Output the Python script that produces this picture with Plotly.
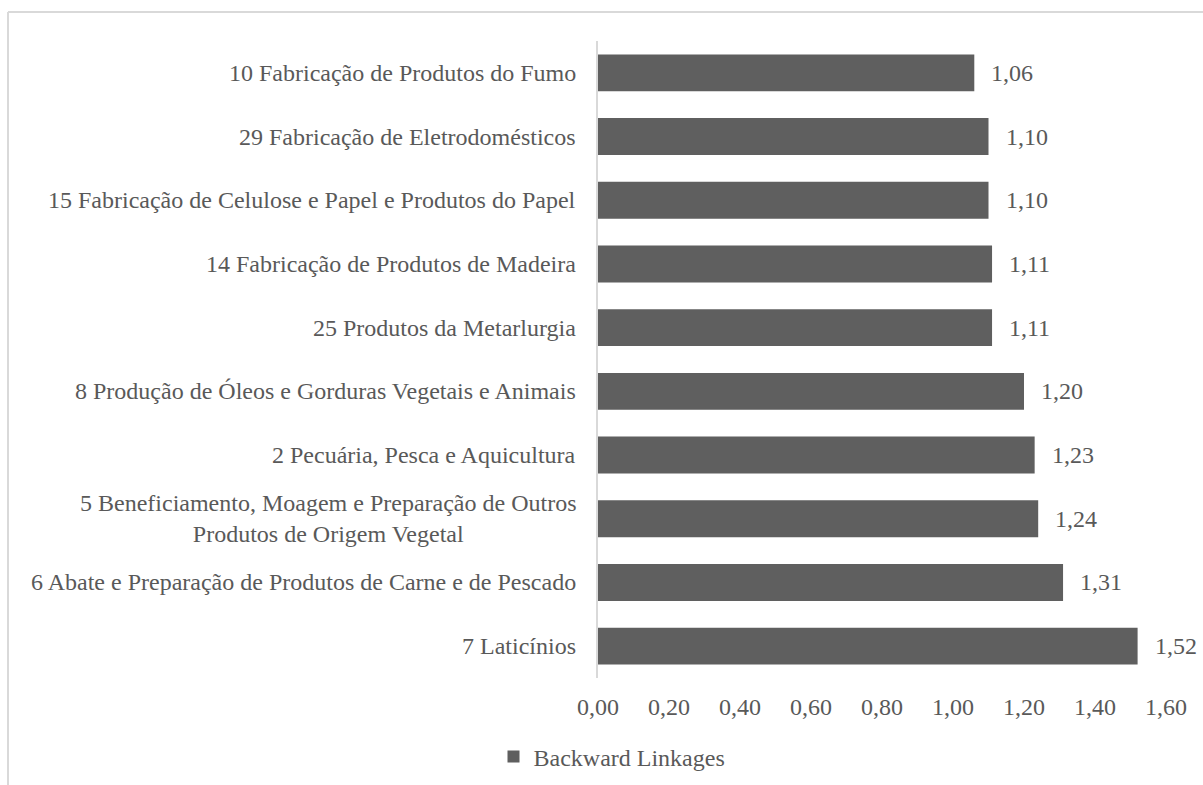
import plotly.graph_objects as go

# Sectors (bottom to top) and their backward linkage indices
sectors = [
    "7 Laticínios",
    "6 Abate e Preparação de Produtos de Carne e de Pescado",
    "5 Beneficiamento, Moagem e Preparação de Outros<br>Produtos de Origem Vegetal",
    "2 Pecuária, Pesca e Aquicultura",
    "8 Produção de Óleos e Gorduras Vegetais e Animais",
    "25 Produtos da Metarlurgia",
    "14 Fabricação de Produtos de Madeira",
    "15 Fabricação de Celulose e Papel e Produtos do Papel",
    "29 Fabricação de Eletrodomésticos",
    "10 Fabricação de Produtos do Fumo",
]
backward = [1.52, 1.31, 1.24, 1.23, 1.20, 1.11, 1.11, 1.10, 1.10, 1.06]
x_ticks = [0.0, 0.2, 0.4, 0.6, 0.8, 1.0, 1.2, 1.4, 1.6]

FONT = "Liberation Serif"
TXT = "#595959"
BAR = "#5f5f5f"
GRID = "#d9d9d9"
FS = 24

W, H = 1203, 785
ML, MR, MT, MB = 598, 37, 41, 107
pw, ph = W - ML - MR, H - MT - MB


def px_x(p):
    return (p - ML) / pw


def px_y(p):
    return (H - MB - p) / ph


fig = go.Figure()
fig.add_trace(go.Bar(
    x=backward, y=sectors, orientation="h",
    marker=dict(color=BAR, line=dict(width=0)),
    name="Backward Linkages", showlegend=True,
))

# value labels at the end of each bar
for s, v in zip(sectors, backward):
    fig.add_annotation(
        x=v, y=s, xref="x", yref="y", text=f"{v:.2f}".replace(".", ","),
        showarrow=False, xanchor="left", yanchor="middle", xshift=15,
        font=dict(family=FONT, size=FS, color=TXT),
    )

# category labels, right-aligned against the axis, wrapped lines centred
for s in sectors:
    fig.add_annotation(
        x=0, y=s, xref="paper", yref="y", text=s, align="center",
        showarrow=False, xanchor="right", yanchor="middle", xshift=-20,
        font=dict(family=FONT, size=FS, color=TXT),
    )

# chart-area border (left and top edges)
bx, by = px_x(8), px_y(12)
fig.add_shape(type="line", xref="paper", yref="paper", x0=bx, x1=bx,
              y0=by, y1=px_y(H + 10), line=dict(color=GRID, width=2))
fig.add_shape(type="line", xref="paper", yref="paper", x0=bx, x1=px_x(W + 10),
              y0=by, y1=by, line=dict(color=GRID, width=2))

fig.update_layout(
    width=W, height=H,
    margin=dict(l=ML, r=MR, t=MT, b=MB, autoexpand=False),
    paper_bgcolor="white", plot_bgcolor="white",
    separators=",.",
    bargap=0.42,
    font=dict(family=FONT, size=FS, color=TXT),
    xaxis=dict(
        range=[0, 1.6], tickvals=x_ticks, tickformat=".2f",
        showgrid=False, zeroline=False, showline=False,
        ticks="", ticklabelstandoff=12,
        tickfont=dict(family=FONT, size=FS, color=TXT),
        fixedrange=True,
    ),
    yaxis=dict(
        showticklabels=False, showgrid=False, zeroline=False,
        showline=True, linecolor=GRID, linewidth=2, ticks="",
        categoryorder="array", categoryarray=sectors,
        fixedrange=True,
    ),
    legend=dict(
        orientation="h", x=px_x(612), xanchor="center",
        y=px_y(757), yanchor="middle",
        font=dict(family=FONT, size=FS, color=TXT),
        itemwidth=30,
    ),
)

fig.write_html("out.html")
